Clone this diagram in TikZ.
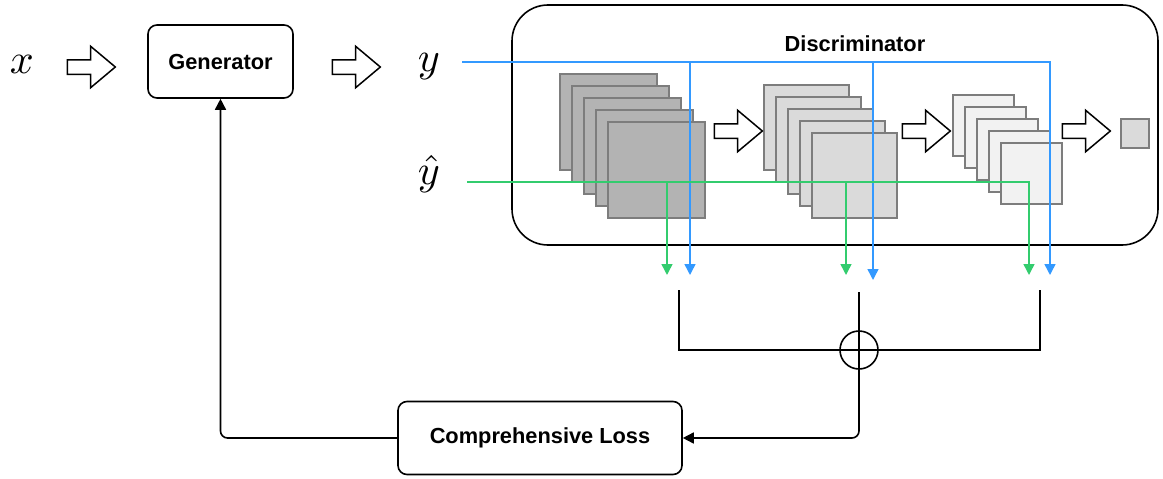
\documentclass[tikz,border=0pt]{standalone}
\usepackage{graphicx}
\usepackage{fontspec}
\setmainfont{Liberation Sans}
\usetikzlibrary{arrows.meta,shapes.arrows}
\definecolor{realblue}{RGB}{51,153,255}
\definecolor{fakegreen}{RGB}{51,204,110}
\definecolor{mapdark}{RGB}{179,179,179}
\definecolor{mapmid}{RGB}{218,218,218}
\definecolor{maplight}{RGB}{242,242,242}
\definecolor{mapedge}{RGB}{125,125,125}
\newcommand{\bigvar}[1]{\scalebox{4.2}{$#1$}}
\tikzset{
  block/.style={draw, line width=1.6pt, rounded corners=9pt, inner sep=0pt,
    font=\bfseries\fontsize{21.8}{26}\selectfont},
  hollow/.style={single arrow, draw, line width=1.5pt, inner xsep=0pt, inner ysep=6.5pt,
    minimum height=48pt, minimum width=41pt, single arrow head extend=13.5pt,
    single arrow tip angle=80},
  fmap/.style={draw=mapedge, line width=1.5pt, inner sep=0pt, anchor=north west},
  realline/.style={draw=realblue, line width=1.5pt},
  fakeline/.style={draw=fakegreen, line width=1.5pt},
  tip/.style={-{Triangle[length=11pt,width=11pt]}},
  sumline/.style={line width=1.6pt, rounded corners=7pt},
}
\begin{document}
\begin{tikzpicture}[x=1pt,y=-1pt]
  \useasboundingbox (0,0) rectangle (1163,479);

  % generator side
  \node (xlab) at (22,64) {\bigvar{x}};
  \node[hollow] (in) at (87,67) {};
  \node[block, minimum width=145pt, minimum height=73pt] (gen) at (220.5,61.5) {Generator};
  \node[hollow] (out) at (352,67) {};
  \node (ylab) at (429,67) {\bigvar{y}};
  \node (yhat) at (429,174) {\bigvar{\hat{y}}};

  % discriminator
  \node[draw, line width=1.6pt, rounded corners=36pt, minimum width=646pt,
    minimum height=240pt] (disc) at (835,125) {};
  \node[font=\bfseries\fontsize{21.8}{26}\selectfont] (disctitle) at (855,44) {Discriminator};
  \foreach \i in {0,...,4}
    \node[fmap, fill=mapdark, minimum width=97pt, minimum height=96pt] (a\i) at (559+12*\i,73+12*\i) {};
  \foreach \i in {0,...,4}
    \node[fmap, fill=mapmid, minimum width=85pt, minimum height=85pt] (b\i) at (763+12*\i,84+12*\i) {};
  \foreach \i in {0,...,4}
    \node[fmap, fill=maplight, minimum width=61pt, minimum height=61pt] (c\i) at (952+12*\i,94+12*\i) {};
  \node[hollow] (ha) at (734,131) {};
  \node[hollow] (hb) at (922,131) {};
  \node[hollow] (hc) at (1082,131) {};
  \node[fmap, fill=mapmid, minimum width=28pt, minimum height=29pt] (score) at (1120,118) {};

  % real and fake feeds
  \coordinate (ystart) at (462,62);
  \coordinate (fstart) at (467,182);
  \coordinate (r1) at (690,275);
  \coordinate (r2) at (873,280);
  \coordinate (r3) at (1050,275);
  \coordinate (f1) at (667,275);
  \coordinate (f2) at (846,275);
  \coordinate (f3) at (1029,275);
  \draw[realline, tip] (ystart) -| (r3);
  \draw[realline, tip] (ystart -| r1) -- (r1);
  \draw[realline, tip] (ystart -| r2) -- (r2);
  \draw[fakeline, tip] (fstart) -| (f3);
  \draw[fakeline, tip] (fstart -| f1) -- (f1);
  \draw[fakeline, tip] (fstart -| f2) -- (f2);

  % sum of the three losses
  \coordinate (l1) at (679,290);
  \coordinate (l2) at (859,292);
  \coordinate (l3) at (1040,290);
  \node[draw, circle, line width=1.6pt, minimum size=38pt, inner sep=0pt] (sum) at (859,350) {};
  \node[block, minimum width=284pt, minimum height=73pt] (loss) at (540,438) {Comprehensive Loss};
  \draw[line width=1.6pt] (l1) -- (l1 |- sum) -- (l3 |- sum) -- (l3);
  \draw[sumline, tip] (l2) |- (loss.east);
  \draw[sumline, tip] (loss.west) -| (gen.south);
\end{tikzpicture}
\end{document}
